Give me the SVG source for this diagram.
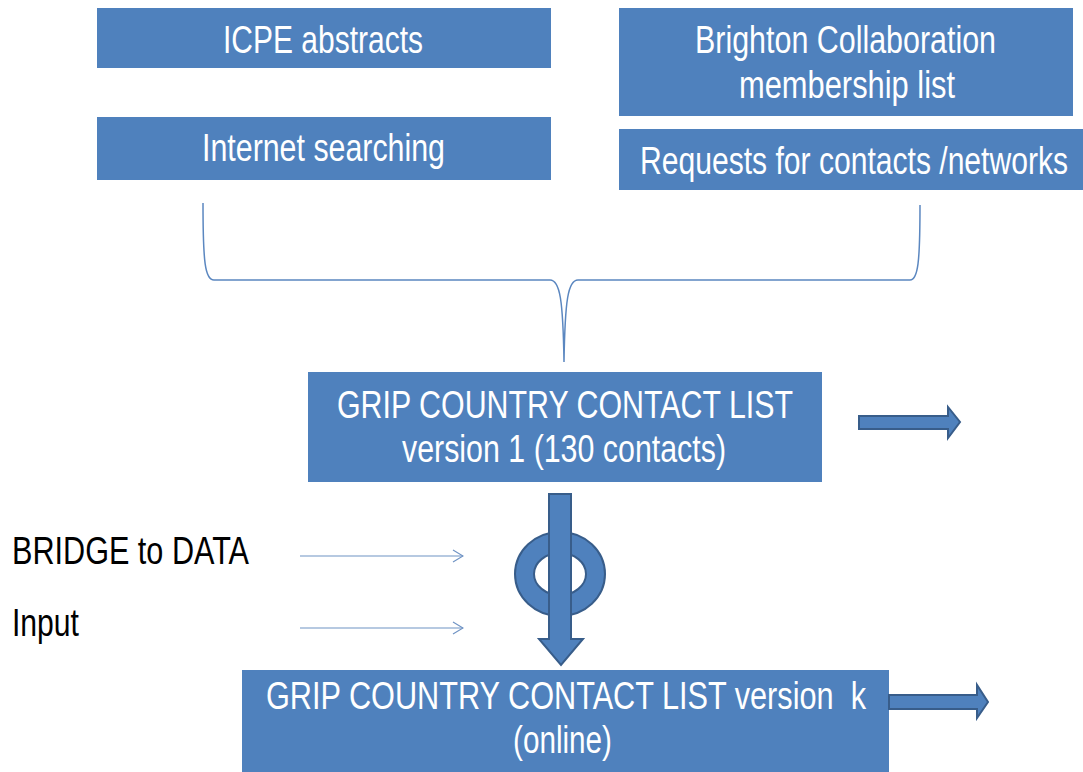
<svg xmlns="http://www.w3.org/2000/svg" width="1083" height="772" viewBox="0 0 1083 772">
<style>
.box{fill:#4F81BD;}
.wt{fill:#FFFFFF;font-family:"Liberation Sans",Arial,sans-serif;font-size:38px;}
.bt{fill:#000000;font-family:"Liberation Sans",Arial,sans-serif;font-size:38px;}
.blk{fill:#4F81BD;stroke:#385D8A;stroke-width:2;stroke-linejoin:miter;}
.thin{fill:none;stroke:#6F93C4;stroke-width:1.2;}
.brace{fill:none;stroke:#5B87C0;stroke-width:1.5;}
</style>
<defs>
<marker id="open" viewBox="0 0 12 14" refX="11" refY="7" markerWidth="12" markerHeight="14" markerUnits="userSpaceOnUse" orient="auto">
<path d="M1,1 L11,7 L1,13" fill="none" stroke="#6F93C4" stroke-width="1.2"/>
</marker>
</defs>
<rect width="1083" height="772" fill="#FFFFFF"/>

<g id="icpe">
<rect class="box" x="97" y="8" width="454" height="60"/>
<text class="wt" x="223" y="53" textLength="200" lengthAdjust="spacingAndGlyphs">ICPE abstracts</text>
</g>
<g id="internet">
<rect class="box" x="97" y="117" width="454" height="63"/>
<text class="wt" x="202" y="161" textLength="243" lengthAdjust="spacingAndGlyphs">Internet searching</text>
</g>
<g id="brighton">
<rect class="box" x="619" y="8" width="454" height="108"/>
<text class="wt" x="695" y="53" textLength="301" lengthAdjust="spacingAndGlyphs">Brighton Collaboration</text>
<text class="wt" x="739" y="98" textLength="216" lengthAdjust="spacingAndGlyphs">membership list</text>
</g>
<g id="requests">
<rect class="box" x="619" y="129" width="464" height="61"/>
<text class="wt" x="640" y="174" textLength="428" lengthAdjust="spacingAndGlyphs">Requests for contacts /networks</text>
</g>
<g id="grip1">
<rect class="box" x="308" y="372" width="514" height="110"/>
<text class="wt" x="337" y="418" textLength="456" lengthAdjust="spacingAndGlyphs">GRIP COUNTRY CONTACT LIST</text>
<text class="wt" x="402" y="462" textLength="324" lengthAdjust="spacingAndGlyphs">version 1 (130 contacts)</text>
</g>
<g id="gripk">
<rect class="box" x="242" y="670" width="647" height="102"/>
<text class="wt" x="266" y="709" textLength="600" lengthAdjust="spacingAndGlyphs" style="white-space:pre">GRIP COUNTRY CONTACT LIST version  k</text>
<text class="wt" x="513" y="753" textLength="99" lengthAdjust="spacingAndGlyphs">(online)</text>
</g>
<g id="bridge">
<text class="bt" x="12" y="564" textLength="237" lengthAdjust="spacingAndGlyphs">BRIDGE to DATA</text>
</g>
<g id="input">
<text class="bt" x="12" y="636" textLength="67" lengthAdjust="spacingAndGlyphs">Input</text>
</g>

<g id="connectors">
<path class="brace" d="M203,203 C203,262 205,280 214,280 L550,280 C560,280 563,300 564,362 C565,300 568,280 578,280 L910,280 C918,280 920,262 920,205"/>
<line class="thin" x1="300" y1="556" x2="463" y2="556" marker-end="url(#open)"/>
<line class="thin" x1="300" y1="628" x2="463" y2="628" marker-end="url(#open)"/>
<path class="blk" d="M859,416 L948,416 L948,407 L960,422 L948,438 L948,429 L859,429 Z"/>
<path class="blk" d="M889,695 L977,695 L977,685 L988,702 L977,718 L977,709 L889,709 Z"/>
<path class="blk" fill-rule="evenodd" d="M515,574 A45,42 0 1 0 605,574 A45,42 0 1 0 515,574 Z M534,574 A26,21 0 1 1 586,574 A26,21 0 1 1 534,574 Z"/>
<path class="blk" d="M549,494 L571,494 L571,639 L583,639 L561,665 L539,639 L549,639 Z"/>
</g>
</svg>
